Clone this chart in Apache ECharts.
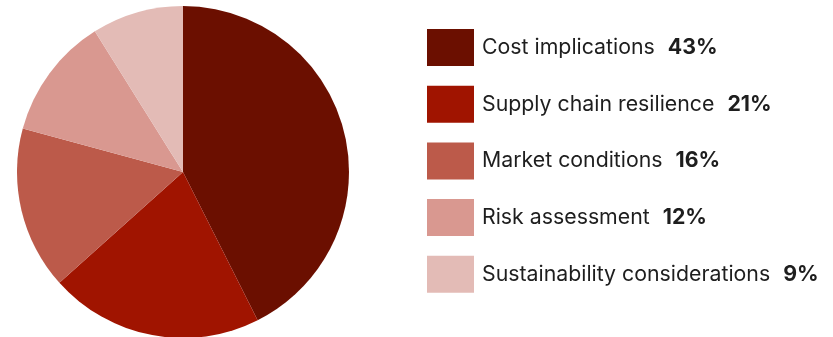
<!DOCTYPE html>
<html>
<head>
<meta charset="utf-8">
<script src="https://cdn.jsdelivr.net/npm/echarts@6/dist/echarts.min.js"></script>
<style>
  html, body { margin: 0; padding: 0; background: #ffffff; }
  #chart { width: 833px; height: 337px; }
</style>
</head>
<body>
<div id="chart"></div>
<script>
// Survey factors and their shares (percent)
const categories = [
  'Cost implications',
  'Supply chain resilience',
  'Market conditions',
  'Risk assessment',
  'Sustainability considerations'
];
const shares = [43, 21, 16, 12, 9];
const sliceColors = ['#6b0f00', '#a01400', '#bc5a4a', '#d99890', '#e3bbb6'];

const pieData = categories.map((name, i) => ({
  name: name,
  value: shares[i],
  itemStyle: { color: sliceColors[i] }
}));

const chart = echarts.init(document.getElementById('chart'), null, { renderer: 'canvas' });
chart.setOption({
  animation: false,
  legend: {
    orient: 'vertical',
    left: 422,
    top: 24,
    itemWidth: 47,
    itemHeight: 37,
    itemGap: 19.7,
    icon: 'rect',
    selectedMode: false,
    formatter: function (name) {
      const i = categories.indexOf(name);
      return '{n|' + name + '}{p|' + shares[i] + '%}';
    },
    textStyle: {
      rich: {
        n: { fontFamily: 'Inter', fontSize: 21.3, color: '#1e1e1e', padding: [0, 0, 0, 3] },
        p: { fontFamily: 'Inter', fontSize: 21.3, fontWeight: 'bold', color: '#1e1e1e', padding: [0, 0, 0, 13] }
      }
    }
  },
  series: [{
    type: 'pie',
    center: [183, 172],
    radius: 166,
    startAngle: 90,
    clockwise: true,
    label: { show: false },
    labelLine: { show: false },
    emphasis: { disabled: true },
    itemStyle: { borderWidth: 0 },
    data: pieData
  }]
});
</script>
</body>
</html>
